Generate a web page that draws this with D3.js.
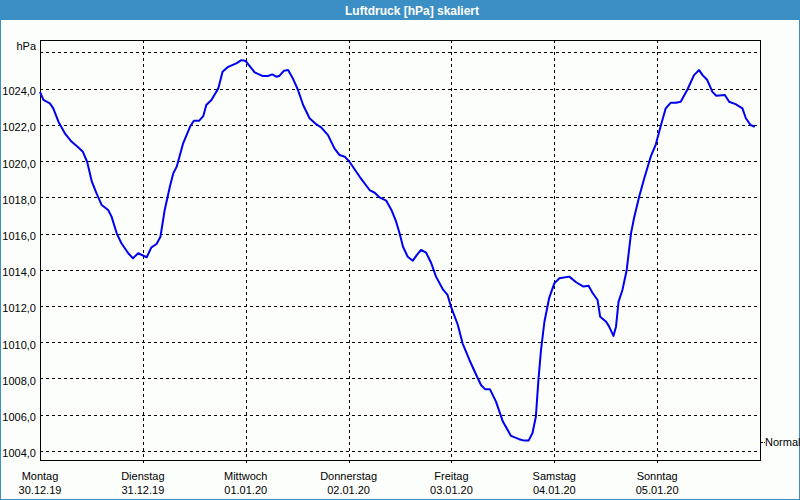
<!DOCTYPE html>
<html>
<head>
<meta charset="utf-8">
<script src="https://cdn.jsdelivr.net/npm/d3@7"></script>
<style>
  html, body { margin: 0; padding: 0; background: #fcfefc; }
  svg { display: block; }
  text { font-family: "Liberation Sans", Arial, sans-serif; }
</style>
</head>
<body>
<svg id="chart" width="800" height="500"></svg>
<script>
// ---- data ----
const title = "Luftdruck [hPa] skaliert";
const unitLabel = "hPa";
const refLabel = "Normal";
const refValue = 1004.5;
const dayNames = ["Montag", "Dienstag", "Mittwoch", "Donnerstag", "Freitag", "Samstag", "Sonntag"];
const dayDates = ["30.12.19", "31.12.19", "01.01.20", "02.01.20", "03.01.20", "04.01.20", "05.01.20"];
const yTicks = [1004, 1006, 1008, 1010, 1012, 1014, 1016, 1018, 1020, 1022, 1024];
const yGrid = [1004, 1006, 1008, 1010, 1012, 1014, 1016, 1018, 1020, 1022, 1024, 1026];
const hours = [0, 0.8, 2.3, 3.1, 4.3, 5.8, 7.4, 8.9, 10.0, 11.0, 12.1, 13.2, 14.4, 15.9, 16.7, 17.9, 19.0, 20.6, 21.7, 22.9,
  24.9, 26.0, 27.2, 28.1, 29.1, 30.3, 31.1, 31.9, 33.4, 35.0, 35.9, 37.1, 38.1, 38.8, 40.0, 41.6, 42.6, 43.9, 45.8, 47.0,
  48.0, 50.1, 52.0, 53.2, 54.2, 55.2, 55.9, 56.9, 57.9, 59.0, 60.2, 61.4, 62.9, 64.5, 65.6, 67.2, 68.7, 69.9, 71.1, 72.2,
  74.6, 76.9, 78.1, 79.2, 80.8, 82.0, 83.1, 83.9, 84.7, 85.8, 87.0, 87.9, 88.9, 90.1, 91.3, 92.4, 94.0, 95.1, 95.9, 97.5,
  98.6, 100.2, 101.8, 102.9, 103.9, 105.0, 106.4, 108.0, 109.9, 111.8, 113.0, 114.0, 114.9, 115.7, 116.3, 116.9, 117.7, 118.8, 120.0, 121.2,
  123.5, 125.1, 126.8, 128.0, 128.9, 130.1, 130.7, 132.1, 132.8, 133.8, 134.4, 135.0, 135.9, 136.9, 137.9, 138.6, 139.8, 141.0, 142.5, 143.7,
  144.9, 146.0, 147.2, 148.4, 149.5, 151.1, 152.6, 153.8, 154.6, 155.7, 156.9, 157.8, 159.8, 160.8, 162.3, 163.9, 164.7, 165.8, 166.8];
const hPa = [1023.82, 1023.37, 1023.18, 1022.91, 1022.17, 1021.53, 1021.06, 1020.76, 1020.51, 1019.96, 1018.86, 1018.22, 1017.57, 1017.30, 1016.93, 1016.01, 1015.46, 1014.91, 1014.63, 1014.91,
  1014.69, 1015.24, 1015.42, 1015.82, 1017.30, 1018.58, 1019.32, 1019.69, 1020.98, 1021.89, 1022.22, 1022.22, 1022.48, 1023.09, 1023.37, 1024.01, 1024.93, 1025.20, 1025.39, 1025.57,
  1025.52, 1024.89, 1024.69, 1024.69, 1024.78, 1024.65, 1024.71, 1024.98, 1025.02, 1024.56, 1023.92, 1023.09, 1022.36, 1022.02, 1021.86, 1021.43, 1020.70, 1020.33, 1020.24, 1019.96,
  1019.13, 1018.40, 1018.25, 1018.00, 1017.81, 1017.30, 1016.65, 1016.01, 1015.27, 1014.72, 1014.50, 1014.81, 1015.09, 1014.94, 1014.36, 1013.62, 1012.92, 1012.61, 1011.96, 1010.95,
  1009.94, 1009.02, 1008.19, 1007.64, 1007.40, 1007.40, 1006.72, 1005.62, 1004.83, 1004.65, 1004.57, 1004.57, 1004.98, 1005.89, 1007.92, 1009.57, 1011.13, 1012.43, 1013.25, 1013.53,
  1013.62, 1013.31, 1013.07, 1013.12, 1012.73, 1012.33, 1011.41, 1011.13, 1010.86, 1010.35, 1010.86, 1012.24, 1012.88, 1013.99, 1016.01, 1016.84, 1018.03, 1019.05, 1020.24, 1020.92,
  1021.99, 1022.91, 1023.22, 1023.22, 1023.27, 1023.96, 1024.74, 1025.02, 1024.74, 1024.47, 1023.82, 1023.60, 1023.64, 1023.27, 1023.14, 1022.91, 1022.36, 1021.99, 1021.89];

// ---- layout ----
const W = 800, H = 500;
const plot = { left: 40, top: 40, right: 760, bottom: 460 };
const svg = d3.select("#chart");

const x = d3.scaleLinear().domain([0, 168]).range([plot.left, plot.right]);
const y = d3.scaleLinear().domain([1003.5, 1026.68]).range([plot.bottom, plot.top]);
const fmt = v => d3.format(".1f")(v).replace(".", ",");
const px = v => Math.round(v) + 0.5;

// window background & border
svg.append("rect").attr("x", 0).attr("y", 0).attr("width", W).attr("height", H).attr("fill", "#fcfefc");
svg.append("rect").attr("x", 0.5).attr("y", 0.5).attr("width", W - 1).attr("height", H - 1)
  .attr("fill", "none").attr("stroke", "#3c8fc4").attr("stroke-width", 1);
svg.append("rect").attr("x", 0).attr("y", 0).attr("width", W).attr("height", 20).attr("fill", "#3c8fc4");
svg.append("text").attr("x", 412).attr("y", 15).attr("text-anchor", "middle")
  .attr("fill", "#ffffff").attr("font-weight", "bold").attr("font-size", 12).text(title);

// horizontal grid
svg.append("g").selectAll("line").data(yGrid).join("line")
  .attr("x1", plot.left).attr("x2", plot.right)
  .attr("y1", d => px(y(d))).attr("y2", d => px(y(d)))
  .attr("stroke", "#000").attr("stroke-width", 1).attr("stroke-dasharray", "3,3");

// vertical grid (day boundaries) incl. small ticks below axis
const days = d3.range(1, 7);
svg.append("g").selectAll("line").data(days).join("line")
  .attr("x1", d => px(x(d * 24))).attr("x2", d => px(x(d * 24)))
  .attr("y1", plot.top).attr("y2", plot.bottom + 3)
  .attr("stroke", "#000").attr("stroke-width", 1).attr("stroke-dasharray", "3,3");

// frame
svg.append("rect").attr("x", plot.left + 0.5).attr("y", plot.top + 0.5)
  .attr("width", plot.right - plot.left).attr("height", plot.bottom - plot.top)
  .attr("fill", "none").attr("stroke", "#000").attr("stroke-width", 1);

// y tick labels
svg.append("g").selectAll("text").data(yTicks).join("text")
  .attr("x", 36).attr("y", d => y(d) + 6.5).attr("text-anchor", "end")
  .attr("font-size", 11).attr("fill", "#000").text(fmt);
svg.append("text").attr("x", 36).attr("y", 50).attr("text-anchor", "end")
  .attr("font-size", 11).attr("fill", "#000").text(unitLabel);

// x labels
const xl = svg.append("g").selectAll("g").data(dayNames).join("g")
  .attr("transform", (d, i) => `translate(${x(i * 24)},0)`);
xl.append("text").attr("y", 480).attr("text-anchor", "middle").attr("font-size", 11).text(d => d);
xl.append("text").attr("y", 494).attr("text-anchor", "middle").attr("font-size", 11).text((d, i) => dayDates[i]);

// reference label on the right
svg.append("line").attr("x1", plot.right + 1).attr("x2", plot.right + 5)
  .attr("y1", px(y(refValue))).attr("y2", px(y(refValue)))
  .attr("stroke", "#000").attr("stroke-dasharray", "2,1");
svg.append("text").attr("x", 765).attr("y", y(refValue) + 4).attr("font-size", 11).text(refLabel);

// line
const pts = hours.map((h, i) => [h, hPa[i]]);
svg.append("path").datum(pts)
  .attr("d", d3.line().x(d => x(d[0])).y(d => y(d[1])))
  .attr("fill", "none").attr("stroke", "#0000f0").attr("stroke-width", 2)
  .attr("stroke-linejoin", "round");
</script>
</body>
</html>
